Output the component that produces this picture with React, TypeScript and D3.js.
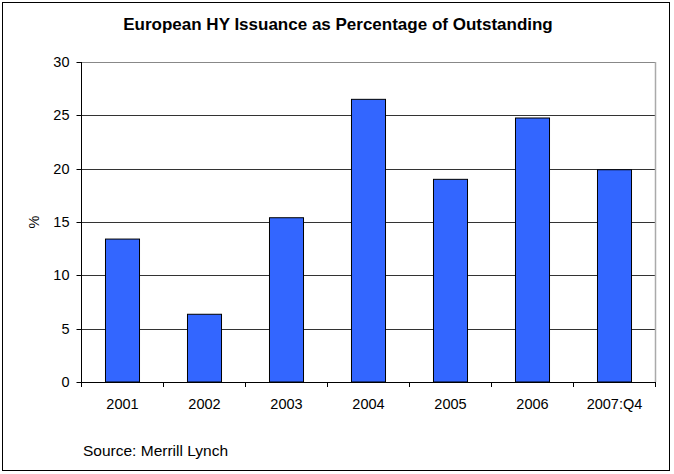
import React from "react";
import * as d3 from "d3";

const categories = ["2001", "2002", "2003", "2004", "2005", "2006", "2007:Q4"];
const values = [13.4, 6.35, 15.4, 26.5, 19.0, 24.75, 19.9];
const yTicks = [0, 5, 10, 15, 20, 25, 30];
const title = "European HY Issuance as Percentage of Outstanding";
const source = "Source: Merrill Lynch";
const yLabel = "%";

const W = 674;
const H = 474;
const left = 81.5;
const right = 655.5;
const top = 62;
const bottom = 382;
const font = "Arial, 'Liberation Sans', sans-serif";

export default function App() {
  const x = d3.scaleBand<string>().domain(categories).range([left, right]).paddingInner(0).paddingOuter(0);
  const y = d3.scaleLinear().domain([0, 30]).range([bottom, top]);
  const bw = x.bandwidth() * 0.415;
  return (
    <svg width={W} height={H} style={{ position: "absolute", left: 0, top: 0, background: "#fff" }}>
      <rect x={2.5} y={2.5} width={667} height={468} fill="#fff" stroke="#000" strokeWidth={1} />
      <text x={338} y={30} textAnchor="middle" fontFamily={font} fontWeight="bold" fontSize={17} fill="#000">
        {title}
      </text>
      {yTicks.map((t) => (
        <g key={t}>
          {t > 0 && (
            <line x1={left} x2={right} y1={Math.round(y(t)) + 0.5} y2={Math.round(y(t)) + 0.5} stroke={t === 30 ? "#888" : "#333"} strokeWidth={1} />
          )}
          <line x1={left - 5} x2={left} y1={Math.round(y(t)) + 0.5} y2={Math.round(y(t)) + 0.5} stroke="#000" />
          <text x={left - 12} y={y(t) + 5} textAnchor="end" fontFamily={font} fontSize={14.5} fill="#000">
            {t}
          </text>
        </g>
      ))}
      <line x1={right} x2={right} y1={top} y2={bottom} stroke="#aaa" strokeWidth={1.5} />
      {categories.map((c, i) => (
        <rect
          key={c}
          x={(x(c) as number) + x.bandwidth() / 2 - bw / 2}
          y={y(values[i])}
          width={bw}
          height={bottom - y(values[i])}
          fill="#3366FF"
          stroke="#000"
          strokeWidth={1}
        />
      ))}
      <line x1={left} x2={left} y1={top} y2={bottom} stroke="#000" />
      <line x1={left} x2={right} y1={bottom + 0.5} y2={bottom + 0.5} stroke="#000" />
      {categories.map((c) => (
        <line key={"t" + c} x1={x(c) as number} x2={x(c) as number} y1={bottom} y2={bottom + 5} stroke="#000" />
      ))}
      <line x1={right} x2={right} y1={bottom} y2={bottom + 5} stroke="#000" />
      {categories.map((c) => (
        <text key={"l" + c} x={(x(c) as number) + x.bandwidth() / 2} y={409} textAnchor="middle" fontFamily={font} fontSize={14.5} fill="#000">
          {c}
        </text>
      ))}
      <text transform={`translate(39,${(top + bottom) / 2}) rotate(-90)`} textAnchor="middle" fontFamily={font} fontSize={14.5} fill="#000">
        {yLabel}
      </text>
      <text x={83} y={456} fontFamily={font} fontSize={15.5} fill="#000">
        {source}
      </text>
    </svg>
  );
}
